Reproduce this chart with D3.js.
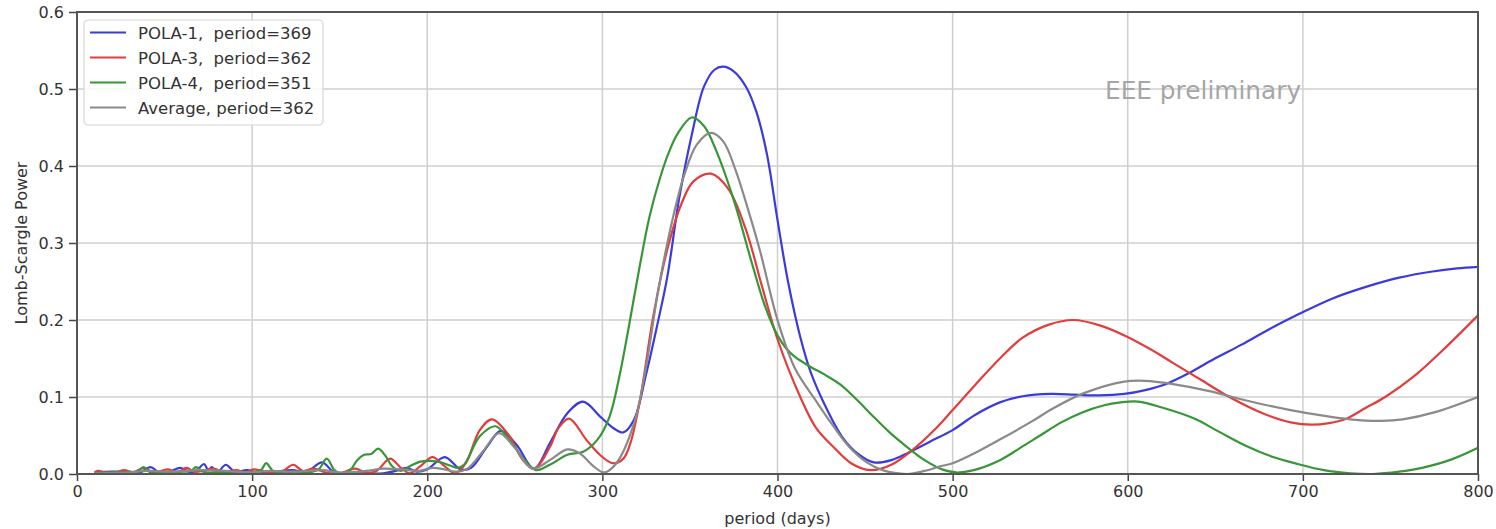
<!DOCTYPE html>
<html>
<head>
<meta charset="utf-8">
<script src="https://cdn.jsdelivr.net/npm/d3@7"></script>
<style>
  html, body { margin: 0; padding: 0; background: #fff; }
  svg { display: block; font-family: "DejaVu Sans", sans-serif; }
</style>
</head>
<body>
<svg id="chart" width="1496" height="529"></svg>
<script>
// ---------- data ----------
const xTicks = [0, 100, 200, 300, 400, 500, 600, 700, 800];
const yTicks = [0.0, 0.1, 0.2, 0.3, 0.4, 0.5, 0.6];
const seriesNames = ["POLA-1,  period=369", "POLA-3,  period=362", "POLA-4,  period=351", "Average, period=362"];
const seriesColors = ["#3a3ade", "#e23c3c", "#379637", "#8a8a8a"];

const pola1Period = [10,20,30,36,42,47,53,59,65,69,72.5,75,77,80,85,90,97,103,112,123,131,140,147,160,175,182,188,194,200,210,219,225,234,242,251,261,270,280,289,299,306,312,318,325,331,337,344,351,358,364,369,375,382,388,394,400,406,413,419,428,437,446,455,465,475,487,500,513,527,540,556,570,584,598,610,622,635,649,665,680,698,717,736,755,774,788,800];
const pola1Power  = [0.002,0.003,0.003,0.002,0.009,0.002,0.003,0.008,0.002,0.006,0.013,0.005,0.009,0.002,0.012,0.003,0.005,0.002,0.003,0.005,0.003,0.015,0.002,0.001,0.001,0.004,0.008,0.003,0.006,0.022,0.006,0.008,0.035,0.056,0.038,0.007,0.040,0.079,0.094,0.074,0.060,0.054,0.070,0.130,0.190,0.255,0.360,0.440,0.503,0.525,0.529,0.523,0.503,0.470,0.415,0.330,0.250,0.178,0.132,0.085,0.048,0.026,0.015,0.018,0.028,0.042,0.057,0.077,0.093,0.101,0.104,0.103,0.102,0.104,0.109,0.117,0.131,0.149,0.168,0.187,0.208,0.228,0.243,0.255,0.263,0.267,0.269];

const pola3Period = [10,12,16,22,27,32,38,44,52,57,62.6,67,72,78,84,91,96,101,110,117,123.5,129,135,142,150,158.8,165,171,178.8,185,190,196,203,210,216,222,230,237,247,254,261,270,275,281,291,299,306,312,316,321.5,329,337,345,352,362,372,382,391,400,413,422,432,442,453,465,477,490,500,513,527,540,555,569,584,599,613,626,642,658,678,693,705,715,724,736,747,763,780,800];
const pola3Power  = [0.002,0.004,0.002,0.002,0.005,0.002,0.008,0.002,0.006,0.002,0.008,0.003,0.004,0.007,0.002,0.005,0.002,0.006,0.002,0.003,0.012,0.004,0.007,0.002,0.001,0.007,0.002,0.004,0.020,0.008,0.001,0.010,0.022,0.010,0.001,0.014,0.057,0.071,0.049,0.020,0.007,0.035,0.060,0.072,0.044,0.024,0.014,0.020,0.040,0.096,0.204,0.291,0.350,0.380,0.390,0.370,0.317,0.245,0.175,0.100,0.060,0.035,0.014,0.005,0.012,0.031,0.058,0.083,0.116,0.150,0.177,0.194,0.200,0.193,0.179,0.162,0.144,0.122,0.100,0.078,0.067,0.064,0.066,0.071,0.086,0.100,0.126,0.161,0.206];

const pola4Period = [10,20,30,35,38,42,50,60,65,68,72,80,90,100,105,108,112,118,125,132,138,142.6,147,150,156,160,164,168,172,176,180,185,190,196,202,208,213,217,221,230,239,247,255,262,270,280,289,297,304,310,315,321.5,327,333,338,343,351,358,365,375,386,393,400,405,410,419,427,436,445,455,464,474,484,494,502,512,527,538,550,562,574,586,596,606,620,638,652,668,683,697,712,727,740,755,768,785,800];
const pola4Power  = [0.001,0.002,0.002,0.004,0.009,0.002,0.002,0.003,0.004,0.009,0.003,0.002,0.002,0.002,0.005,0.014,0.004,0.002,0.003,0.002,0.006,0.020,0.005,0.001,0.005,0.018,0.025,0.026,0.033,0.024,0.010,0.004,0.010,0.016,0.017,0.015,0.011,0.008,0.012,0.049,0.062,0.044,0.020,0.005,0.012,0.025,0.029,0.044,0.074,0.130,0.190,0.272,0.335,0.385,0.418,0.442,0.463,0.452,0.420,0.356,0.269,0.217,0.180,0.163,0.152,0.139,0.129,0.116,0.097,0.074,0.054,0.035,0.018,0.006,0.002,0.005,0.018,0.033,0.050,0.067,0.080,0.089,0.093,0.094,0.086,0.072,0.055,0.036,0.022,0.013,0.005,0.001,0.000,0.003,0.008,0.019,0.034];

const avgPeriod = [10,30,40,55,70,85,100,110,125,140,150,165,175,185,195,203,210,217,223,232,241,250,260,270,280,287,295,301,308,318,325,332,340,347,354,362,369,376,383,390,400,410,422,431,441,451,460,474,484,493,500,515,528,545,558,575,598,610,625,648,663,678,693,708,727,745,757,775,800];
const avgPower  = [0.001,0.002,0.004,0.003,0.005,0.004,0.002,0.004,0.003,0.005,0.002,0.004,0.007,0.006,0.004,0.008,0.006,0.003,0.007,0.030,0.053,0.034,0.007,0.018,0.032,0.027,0.010,0.002,0.014,0.065,0.140,0.240,0.330,0.390,0.428,0.443,0.432,0.395,0.345,0.290,0.200,0.137,0.095,0.065,0.035,0.015,0.005,0.000,0.004,0.010,0.014,0.030,0.046,0.068,0.086,0.105,0.120,0.121,0.117,0.107,0.098,0.090,0.083,0.077,0.071,0.069,0.071,0.080,0.100];

const seriesPeriods = [pola1Period, pola3Period, pola4Period, avgPeriod];
const seriesPowers  = [pola1Power, pola3Power, pola4Power, avgPower];

// ---------- layout ----------
const W = 1496, H = 529;
const margin = {left: 77, top: 12, right: 18, bottom: 55};
const iw = W - margin.left - margin.right;
const ih = H - margin.top - margin.bottom;

const svg = d3.select("#chart");
const g = svg.append("g").attr("transform", `translate(${margin.left},${margin.top})`);

const x = d3.scaleLinear().domain([0, 800]).range([0, iw]);
const y = d3.scaleLinear().domain([0, 0.6]).range([ih, 0]);

// grid
g.append("g").selectAll("line").data(xTicks).join("line")
  .attr("x1", d => x(d)).attr("x2", d => x(d)).attr("y1", 0).attr("y2", ih)
  .attr("stroke", "#cfcfcf").attr("stroke-width", 1.5);
g.append("g").selectAll("line").data(yTicks).join("line")
  .attr("x1", 0).attr("x2", iw).attr("y1", d => y(d)).attr("y2", d => y(d))
  .attr("stroke", "#cfcfcf").attr("stroke-width", 1.5);

// clip
svg.append("defs").append("clipPath").attr("id", "clip")
  .append("rect").attr("x", 0).attr("y", -2).attr("width", iw).attr("height", ih + 1);

// lines
const line = d3.line().x(d => x(d[0])).y(d => y(d[1])).curve(d3.curveCatmullRom.alpha(0.5));
const lg = g.append("g").attr("clip-path", "url(#clip)");
seriesNames.forEach((name, i) => {
  const pts = d3.zip(seriesPeriods[i], seriesPowers[i]);
  lg.append("path").datum(pts)
    .attr("d", line)
    .attr("fill", "none")
    .attr("stroke", seriesColors[i])
    .attr("stroke-width", 2.2)
    .attr("stroke-linejoin", "round");
});

// axes
const xAxis = d3.axisBottom(x).tickValues(xTicks).tickFormat(d3.format("d")).tickSize(7).tickPadding(5);
const yAxis = d3.axisLeft(y).tickValues(yTicks).tickFormat(d3.format(".1f")).tickSize(8).tickPadding(5);
const xa = g.append("g").attr("transform", `translate(0,${ih})`).call(xAxis);
const ya = g.append("g").call(yAxis);
[xa, ya].forEach(a => {
  a.select(".domain").remove();
  a.selectAll(".tick line").attr("stroke", "#444").attr("stroke-width", 1.5);
  a.selectAll(".tick text").attr("fill", "#333").attr("font-size", 16)
    .attr("font-family", "DejaVu Sans, sans-serif");
});

// frame
g.append("rect").attr("x", 0).attr("y", 0).attr("width", iw).attr("height", ih)
  .attr("fill", "none").attr("stroke", "#555").attr("stroke-width", 2);

// axis labels
svg.append("text").attr("x", margin.left + iw / 2).attr("y", 524)
  .attr("text-anchor", "middle").attr("font-size", 16).attr("fill", "#333")
  .text("period (days)");
svg.append("text").attr("transform", `translate(27,${margin.top + ih / 2}) rotate(-90)`)
  .attr("text-anchor", "middle").attr("font-size", 16).attr("fill", "#333")
  .text("Lomb-Scargle Power");

// watermark
g.append("text").attr("x", x(587)).attr("y", 87)
  .attr("font-size", 24.8).attr("fill", "#a6a6a6")
  .text("EEE preliminary");

// legend
const leg = svg.append("g").attr("transform", "translate(84,20)");
leg.append("rect").attr("width", 239).attr("height", 105).attr("rx", 4)
  .attr("fill", "#fff").attr("fill-opacity", 0.85)
  .attr("stroke", "#d6d6d6").attr("stroke-width", 1.2);
seriesNames.forEach((name, i) => {
  const yy = 12.5 + i * 25;
  leg.append("line").attr("x1", 6).attr("x2", 42).attr("y1", yy).attr("y2", yy)
    .attr("stroke", seriesColors[i]).attr("stroke-width", 2.2);
  leg.append("text").attr("x", 54).attr("y", yy + 6)
    .attr("font-size", 16.5).attr("fill", "#333")
    .attr("xml:space", "preserve").style("white-space", "pre")
    .text(name);
});
</script>
</body>
</html>
